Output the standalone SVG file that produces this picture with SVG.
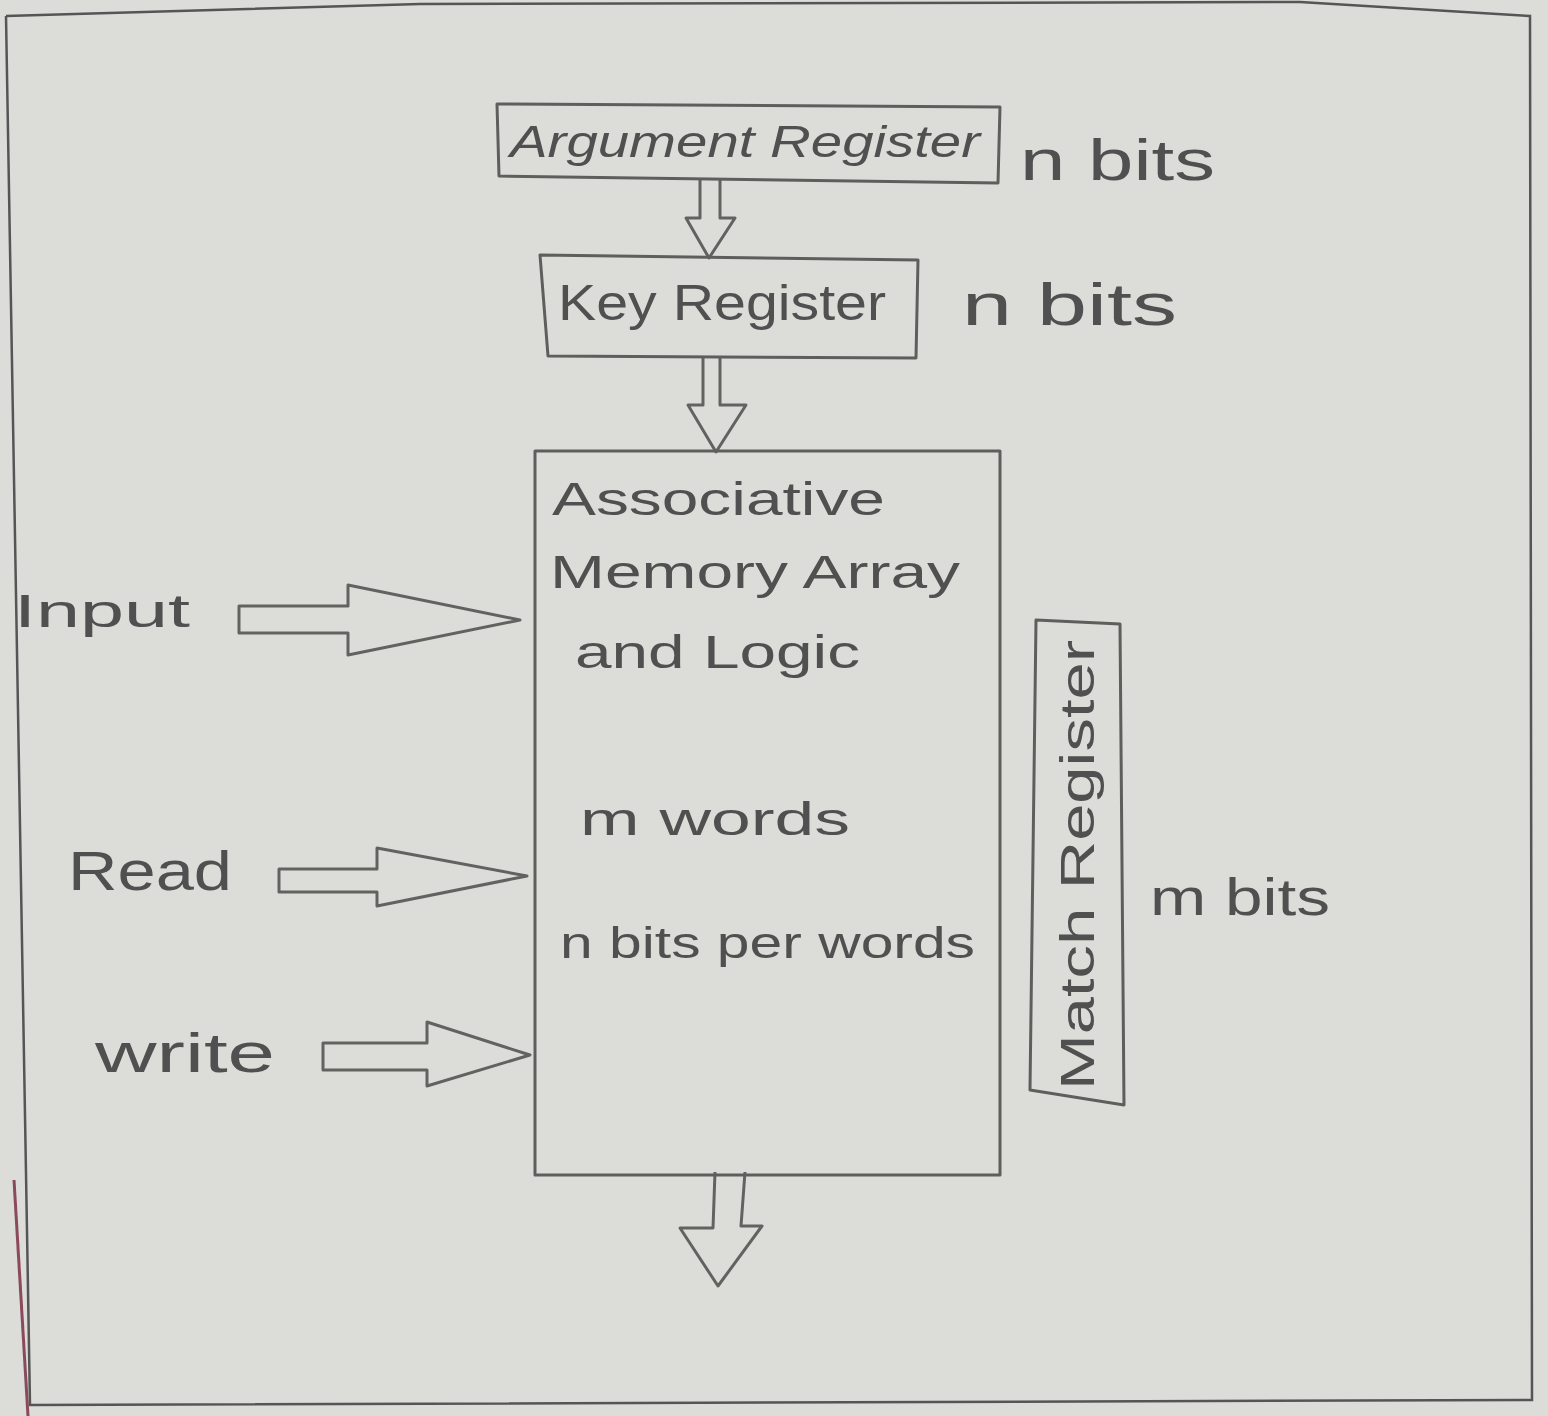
<svg xmlns="http://www.w3.org/2000/svg" width="1548" height="1416" viewBox="0 0 1548 1416">
<style>
.box{fill:none;stroke:#5e5e5c;stroke-width:3;stroke-linejoin:round}
.arr{fill:none;stroke:#626260;stroke-width:3;stroke-linejoin:round}
.t{font-family:"Liberation Sans",Arial,sans-serif;fill:#505050}
</style>
<rect x="0" y="0" width="1548" height="1416" fill="#dcdcd9"/>
<path d="M6,16 L420,4 L1300,2 L1530,16 L1532,1400 L30,1405 L6,16" fill="none" stroke="#555" stroke-width="2.5"/>
<line x1="14" y1="1180" x2="28" y2="1416" stroke="#8a4a5a" stroke-width="3"/>
<g id="connectors">
<path class="arr" d="M700,180 L700,218 L686,218 L709,258 L735,218 L720,218 L720,180"/>
<path class="arr" d="M703,358 L703,405 L688,405 L716,452 L746,405 L720,405 L720,358"/>
<path class="arr" d="M239,606 L348,606 L348,585 L520,620 L348,655 L348,633 L239,633 Z"/>
<path class="arr" d="M279,869 L377,869 L377,848 L527,876 L377,906 L377,892 L279,892 Z"/>
<path class="arr" d="M323,1043 L427,1043 L427,1022 L530,1055 L427,1086 L427,1070 L323,1070 Z"/>
<path class="arr" d="M715,1172 L713,1228 L680,1228 L718,1286 L762,1226 L741,1226 L745,1172"/>
</g>
<g id="argument-register">
<path class="box" d="M497,104 L1000,107 L998,183 L499,176 Z"/>
<text class="t" x="510" y="157" font-size="44" font-style="italic" textLength="470" lengthAdjust="spacingAndGlyphs">Argument Register</text>
</g>
<text class="t" x="1020" y="180" font-size="58" textLength="195" lengthAdjust="spacingAndGlyphs">n bits</text>
<g id="key-register">
<path class="box" d="M540,255 L918,260 L916,358 L548,356 Z"/>
<text class="t" x="558" y="320" font-size="50" textLength="328" lengthAdjust="spacingAndGlyphs">Key Register</text>
</g>
<text class="t" x="962" y="325" font-size="60" textLength="215" lengthAdjust="spacingAndGlyphs">n bits</text>
<g id="associative-memory">
<rect class="box" x="535" y="451" width="465" height="724"/>
<text class="t" x="552" y="515" font-size="46" textLength="333" lengthAdjust="spacingAndGlyphs">Associative</text>
<text class="t" x="550" y="588" font-size="46" textLength="410" lengthAdjust="spacingAndGlyphs">Memory Array</text>
<text class="t" x="575" y="668" font-size="46" textLength="285" lengthAdjust="spacingAndGlyphs">and Logic</text>
<text class="t" x="580" y="835" font-size="46" textLength="270" lengthAdjust="spacingAndGlyphs">m words</text>
<text class="t" x="560" y="958" font-size="44" textLength="415" lengthAdjust="spacingAndGlyphs">n bits per words</text>
</g>
<g id="match-register">
<path class="box" d="M1036,620 L1120,624 L1124,1105 L1030,1090 Z"/>
<text class="t" transform="translate(1094,1090) rotate(-90)" font-size="48" textLength="450" lengthAdjust="spacingAndGlyphs">Match  Register</text>
</g>
<text class="t" x="1150" y="915" font-size="52" textLength="180" lengthAdjust="spacingAndGlyphs">m bits</text>
<g id="input-label"><text class="t" x="14" y="627" font-size="46" textLength="176" lengthAdjust="spacingAndGlyphs">Input</text></g>
<g id="read-label"><text class="t" x="68" y="890" font-size="56" textLength="164" lengthAdjust="spacingAndGlyphs">Read</text></g>
<g id="write-label"><text class="t" x="95" y="1072" font-size="56" textLength="180" lengthAdjust="spacingAndGlyphs">write</text></g>
</svg>
